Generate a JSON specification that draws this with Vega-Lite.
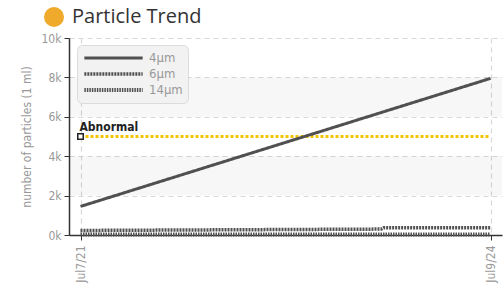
{
  "$schema": "https://vega.github.io/schema/vega-lite/v6.json",
  "autosize": "none",
  "width": 433,
  "height": 197,
  "padding": {"left": 69, "top": 38, "right": 1, "bottom": 50},
  "background": "white",
  "config": {
    "view": {"stroke": null},
    "font": "Liberation Sans Narrow, DejaVu Sans Condensed, Roboto Condensed, sans-serif"
  },
  "datasets": {
    "series": [
      {"date": "2021-07-07", "series": "4μm", "value": 1450},
      {"date": "2024-07-09", "series": "4μm", "value": 7950},
      {"date": "2021-07-07", "series": "6μm", "value": 230},
      {"date": "2023-09-20", "series": "6μm", "value": 300},
      {"date": "2023-09-27", "series": "6μm", "value": 370},
      {"date": "2024-07-09", "series": "6μm", "value": 370},
      {"date": "2021-07-07", "series": "14μm", "value": 20},
      {"date": "2024-07-09", "series": "14μm", "value": 30}
    ],
    "threshold": [
      {"date": "2021-07-07", "value": 5000, "label": "Abnormal"},
      {"date": "2024-07-09", "value": 5000, "label": "Abnormal"}
    ],
    "marker": [
      {"date": "2021-07-07", "value": 5000, "label": "Abnormal"}
    ],
    "bands": [
      {"from": 2000, "to": 4000},
      {"from": 6000, "to": 8000}
    ],
    "heading": [
      {"title": "Particle Trend"}
    ]
  },
  "layer": [
    {
      "data": {"name": "bands"},
      "mark": {"type": "rect", "fill": "#000000", "fillOpacity": 0.03},
      "encoding": {
        "y": {
          "field": "from", "type": "quantitative",
          "scale": {"domain": [0, 10000], "nice": false},
          "axis": {
            "title": "number of particles (1 ml)",
            "titleColor": "#999",
            "titleFontSize": 12,
            "titleFontWeight": "normal",
            "titlePadding": 8,
            "tickCount": 5,
            "labelExpr": "format(datum.value / 1000, 'd') + 'k'",
            "labelColor": "#999",
            "labelFontSize": 12,
            "labelPadding": 3,
            "labelOverlap": false,
            "labelBound": false,
            "labelFlush": false,
            "domainColor": "#333",
            "domainWidth": 1.5,
            "tickColor": "#333",
            "tickSize": 5,
            "grid": true,
            "gridColor": "#d8d8d8",
            "gridDash": [5, 4],
            "gridWidth": 1.2,
            "zindex": 0
          }
        },
        "y2": {"field": "to"}
      }
    },
    {
      "data": {"name": "threshold"},
      "mark": {"type": "line", "color": "#f5c400", "strokeWidth": 3, "strokeDash": [3, 2]},
      "encoding": {
        "x": {
          "field": "date", "type": "temporal",
          "scale": {"type": "utc", "padding": 11.5, "nice": false},
          "axis": {
            "title": null,
            "values": [
              {"year": 2021, "month": 7, "date": 7, "utc": true},
              {"year": 2024, "month": 7, "date": 9, "utc": true}
            ],
            "format": "%b%-d/%y",
            "labelAngle": -90,
            "labelAlign": "right",
            "labelBaseline": "middle",
            "labelColor": "#999",
            "labelFontSize": 12,
            "labelPadding": 5,
            "labelOverlap": false,
            "labelFlush": false,
            "domainColor": "#333",
            "domainWidth": 1.5,
            "tickColor": "#333",
            "tickSize": 5,
            "grid": true,
            "gridColor": "#d8d8d8",
            "gridDash": [5, 4],
            "gridWidth": 1.2,
            "zindex": 0
          }
        },
        "y": {"field": "value", "type": "quantitative"}
      }
    },
    {
      "data": {"name": "series"},
      "mark": {"type": "line", "color": "#505050"},
      "encoding": {
        "x": {"field": "date", "type": "temporal"},
        "y": {"field": "value", "type": "quantitative"},
        "detail": {"field": "series"},
        "strokeDash": {
          "field": "series", "type": "nominal",
          "scale": {"domain": ["4μm", "6μm", "14μm"], "range": [[1, 0], [2, 1], [1.5, 1]]},
          "legend": {
            "title": null,
            "orient": "none",
            "legendX": 8,
            "legendY": 7,
            "fillColor": "#f2f2f2",
            "strokeColor": "#dcdcdc",
            "cornerRadius": 5,
            "padding": 5,
            "symbolSize": 3400,
            "clipHeight": 16,
            "labelColor": "#999",
            "labelFontSize": 13,
            "labelOffset": 4,
            "rowPadding": 0,
            "symbolStrokeColor": "#505050"
          }
        },
        "strokeWidth": {
          "field": "series", "type": "nominal",
          "scale": {"domain": ["4μm", "6μm", "14μm"], "range": [3, 4, 3]},
          "legend": null
        }
      }
    },
    {
      "data": {"name": "marker"},
      "mark": {"type": "point", "shape": "square", "filled": true, "fill": "white", "stroke": "#222", "strokeWidth": 1.5, "size": 30, "opacity": 1},
      "encoding": {
        "x": {"field": "date", "type": "temporal"},
        "y": {"field": "value", "type": "quantitative"}
      }
    },
    {
      "data": {"name": "marker"},
      "mark": {"type": "text", "align": "left", "baseline": "alphabetic", "dx": -1, "dy": -6, "fontSize": 12, "fontWeight": "bold", "color": "#222"},
      "encoding": {
        "x": {"field": "date", "type": "temporal"},
        "y": {"field": "value", "type": "quantitative"},
        "text": {"field": "label"}
      }
    },
    {
      "data": {"name": "heading"},
      "mark": {"type": "point", "filled": true, "opacity": 0, "size": 1},
      "encoding": {
        "fill": {
          "field": "title", "type": "nominal",
          "scale": {"range": ["#f0aa2b"]},
          "legend": {
            "title": null,
            "orient": "none",
            "legendX": -25,
            "legendY": -31,
            "padding": 0,
            "symbolType": "circle",
            "symbolSize": 400,
            "symbolOpacity": 1,
            "symbolStrokeWidth": 0,
            "labelFont": "Open Sans",
            "labelFontSize": 20,
            "labelColor": "#333",
            "labelOffset": 8
          }
        }
      }
    }
  ]
}
